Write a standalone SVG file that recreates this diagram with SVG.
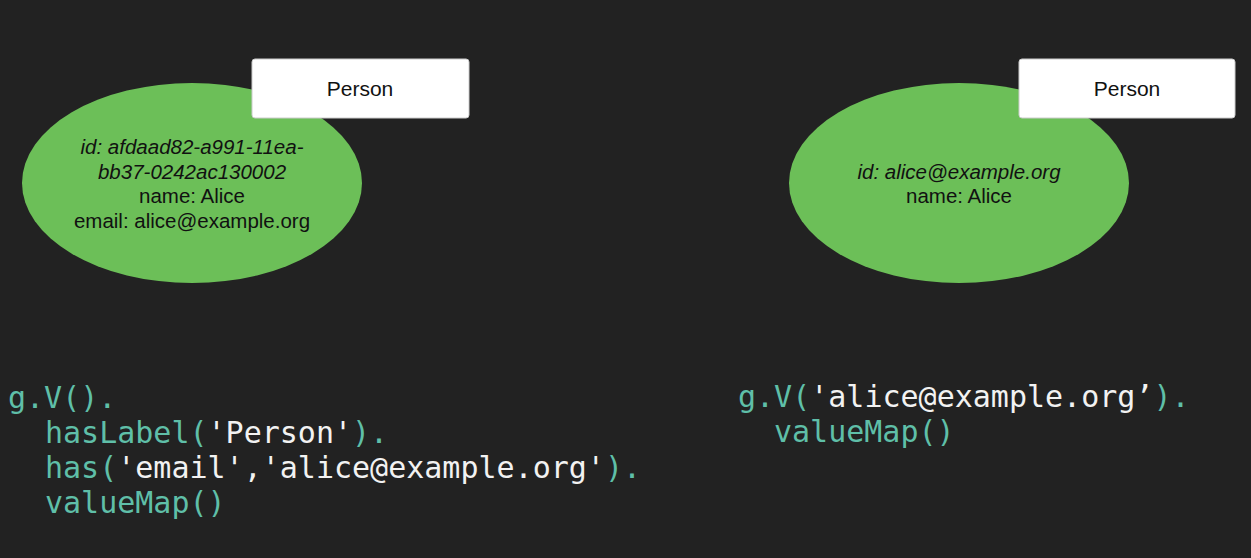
<svg xmlns="http://www.w3.org/2000/svg" width="1251" height="558" viewBox="0 0 1251 558">
<style>
.bg{fill:#222222}
.node{fill:#6cbf58}
.lbl{fill:#ffffff;stroke:#cccccc;stroke-width:1}
.t{font-family:"Liberation Sans",Arial,sans-serif;font-size:20.5px;fill:#111111;text-anchor:middle}
.p{font-size:21px}
.i{font-style:italic}
.code{font-family:"DejaVu Sans Mono",monospace;font-size:30px;fill:#5fbfa8}
.s{fill:#f2f2f2}
</style>
<rect class="bg" x="0" y="0" width="1251" height="558"/>
<g id="vertex-left">
<ellipse class="node" cx="192" cy="183" rx="170" ry="100"/>
<text class="t i" x="192" y="154">id: afdaad82-a991-11ea-</text>
<text class="t i" x="192" y="179">bb37-0242ac130002</text>
<text class="t" x="192" y="203">name: Alice</text>
<text class="t" x="192" y="228">email: alice@example.org</text>
</g>
<g id="label-left">
<rect class="lbl" x="252" y="59" width="217" height="59" rx="3"/>
<text class="t p" x="360" y="96">Person</text>
</g>
<g id="vertex-right">
<ellipse class="node" cx="959" cy="183" rx="170" ry="100"/>
<text class="t i" x="959" y="179">id: alice@example.org</text>
<text class="t" x="959" y="203">name: Alice</text>
</g>
<g id="label-right">
<rect class="lbl" x="1019" y="59" width="216" height="59" rx="3"/>
<text class="t p" x="1127" y="96">Person</text>
</g>
<g id="connectors"></g>
<g id="code-left">
<text class="code" x="8" y="408">g.V().</text>
<text class="code" x="45" y="443">hasLabel(<tspan class="s">'Person'</tspan>).</text>
<text class="code" x="45" y="478">has(<tspan class="s">'email','alice@example.org'</tspan>).</text>
<text class="code" x="45" y="513">valueMap()</text>
</g>
<g id="code-right">
<text class="code" x="738" y="407">g.V(<tspan class="s">'alice@example.org’</tspan>).</text>
<text class="code" x="774" y="442">valueMap()</text>
</g>
</svg>
